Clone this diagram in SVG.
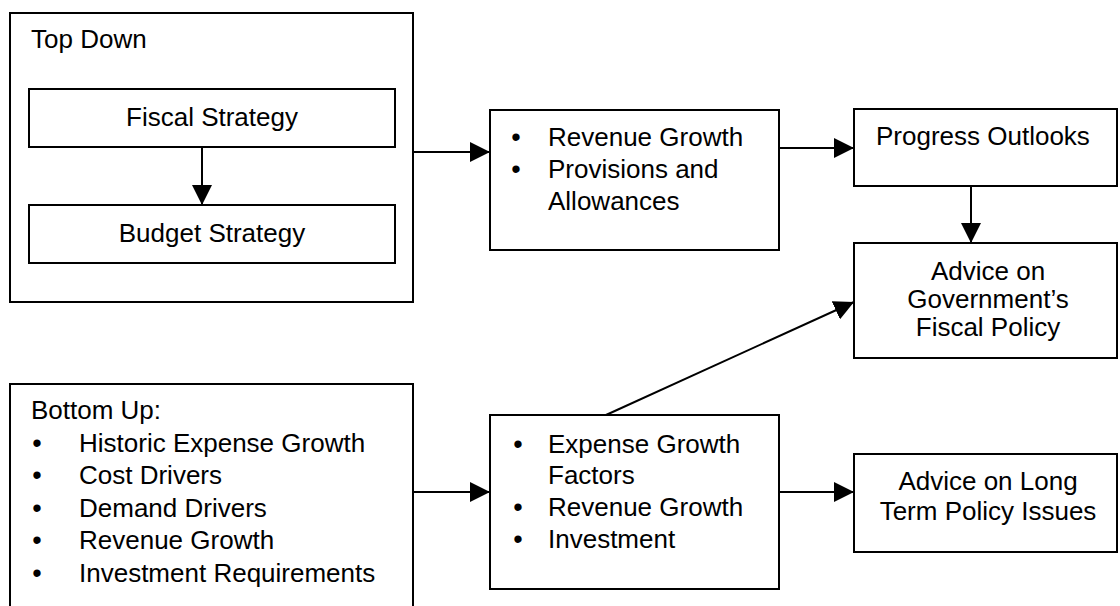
<svg xmlns="http://www.w3.org/2000/svg" width="1120" height="606" viewBox="0 0 1120 606">
<style>
.box{fill:#fff;stroke:#000;stroke-width:2}
.t{font-family:"Liberation Sans",Arial,sans-serif;font-size:26px;fill:#000}
.c{text-anchor:middle}
.b{font-family:"Liberation Sans",Arial,sans-serif;font-size:27px;fill:#000;text-anchor:middle}
.con{stroke:#000;stroke-width:2;fill:none}
</style>
<defs>
<marker id="ah" markerUnits="userSpaceOnUse" markerWidth="20" markerHeight="20" refX="20" refY="10" orient="auto">
<path d="M0,0 L20,10 L0,20 z" fill="#000"/>
</marker>
</defs>
<rect width="1120" height="606" fill="#fff"/>
<g id="topdown">
<rect class="box" x="10" y="13" width="403" height="289"/>
<text class="t" x="31" y="48">Top Down</text>
</g>
<g id="fiscal">
<rect class="box" x="29" y="89" width="366" height="58"/>
<text class="t c" x="212" y="126">Fiscal Strategy</text>
</g>
<g id="budget">
<rect class="box" x="29" y="205" width="366" height="58"/>
<text class="t c" x="212" y="242">Budget Strategy</text>
</g>
<g id="revenue">
<rect class="box" x="490" y="110" width="289" height="140"/>
<text class="b" x="516" y="146">•</text>
<text class="t" x="548" y="146">Revenue Growth</text>
<text class="b" x="516" y="178">•</text>
<text class="t" x="548" y="178">Provisions and</text>
<text class="t" x="548" y="210">Allowances</text>
</g>
<g id="progress">
<rect class="box" x="854" y="109" width="263" height="77"/>
<text class="t" x="876" y="145">Progress Outlooks</text>
</g>
<g id="advice-fiscal">
<rect class="box" x="854" y="243" width="263" height="115"/>
<text class="t c" x="988" y="280">Advice on</text>
<text class="t c" x="988" y="308">Government’s</text>
<text class="t c" x="988" y="336">Fiscal Policy</text>
</g>
<g id="bottomup">
<rect class="box" x="10" y="384" width="403" height="230"/>
<text class="t" x="31" y="419">Bottom Up:</text>
<text class="b" x="37" y="452">•</text>
<text class="t" x="79" y="452">Historic Expense Growth</text>
<text class="b" x="37" y="484">•</text>
<text class="t" x="79" y="484">Cost Drivers</text>
<text class="b" x="37" y="517">•</text>
<text class="t" x="79" y="517">Demand Drivers</text>
<text class="b" x="37" y="549">•</text>
<text class="t" x="79" y="549">Revenue Growth</text>
<text class="b" x="37" y="582">•</text>
<text class="t" x="79" y="582">Investment Requirements</text>
</g>
<g id="expense">
<rect class="box" x="490" y="415" width="289" height="174"/>
<text class="b" x="518" y="453">•</text>
<text class="t" x="548" y="453">Expense Growth</text>
<text class="t" x="548" y="484">Factors</text>
<text class="b" x="518" y="516">•</text>
<text class="t" x="548" y="516">Revenue Growth</text>
<text class="b" x="518" y="548">•</text>
<text class="t" x="548" y="548">Investment</text>
</g>
<g id="longterm">
<rect class="box" x="854" y="454" width="263" height="98"/>
<text class="t c" x="988" y="490">Advice on Long</text>
<text class="t c" x="988" y="520">Term Policy Issues</text>
</g>
<g id="connectors">
<line class="con" x1="202" y1="147" x2="202" y2="205" marker-end="url(#ah)"/>
<line class="con" x1="413" y1="152" x2="490" y2="152" marker-end="url(#ah)"/>
<line class="con" x1="779" y1="148" x2="854" y2="148" marker-end="url(#ah)"/>
<line class="con" x1="971" y1="186" x2="971" y2="243" marker-end="url(#ah)"/>
<line class="con" x1="606" y1="415" x2="854" y2="302" marker-end="url(#ah)"/>
<line class="con" x1="413" y1="492" x2="490" y2="492" marker-end="url(#ah)"/>
<line class="con" x1="779" y1="492" x2="854" y2="492" marker-end="url(#ah)"/>
</g>
</svg>
